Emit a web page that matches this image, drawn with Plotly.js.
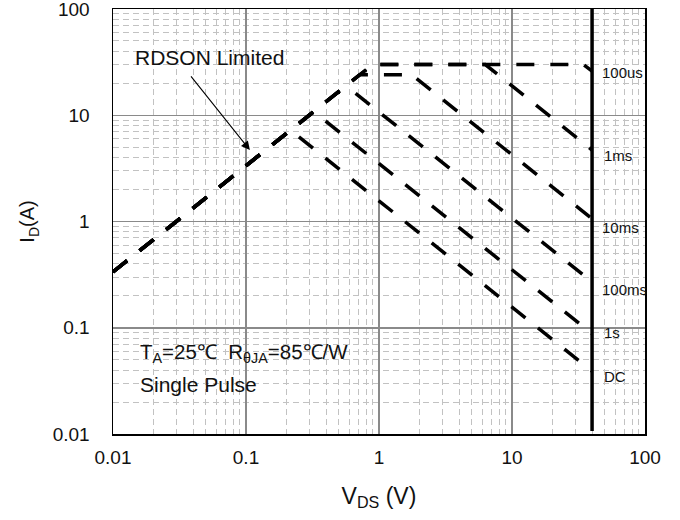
<!DOCTYPE html>
<html>
<head>
<meta charset="utf-8">
<script src="https://cdn.plot.ly/plotly-3.0.1.min.js"></script>
<style>
  html, body { margin: 0; padding: 0; background: #fff; }
  #chart { width: 680px; height: 520px; }
</style>
</head>
<body>
<div id="chart"></div>
<script>
// ---- Data (V_DS in volts, I_D in amps) ----
const dcV     = [0.01, 0.216, 40];
const dcI     = [0.335, 7.25, 0.039];
const s1V     = [0.01, 0.324, 40];
const s1I     = [0.335, 10.8, 0.088];
const ms100V  = [0.01, 0.493, 0.65, 40];
const ms100I  = [0.335, 16.5, 16.5, 0.27];
const ms10V   = [0.01, 0.716, 1.77, 40];
const ms10I   = [0.335, 24, 24, 1.06];
const ms1V    = [0.01, 0.896, 6.3, 40];
const ms1I    = [0.335, 30, 30, 4.7];
const us100V  = [0.01, 0.896, 34.5, 40];
const us100I  = [0.335, 30, 30, 26];

const vdsMaxV = [40, 40];
const vdsMaxI = [0.0107, 100];

const curveLabels = ['100us', '1ms', '10ms', '100ms', '1s', 'DC'];
const labelV      = [45.6, 47.9, 45.6, 45.6, 47.9, 47.9];
const labelI      = [25, 4.15, 0.87, 0.23, 0.09, 0.0346];

const xTickVals = [0.01, 0.1, 1, 10, 100];
const xTickText = ['0.01', '0.1', '1', '10', '100'];
const yTickVals = [0.01, 0.1, 1, 10, 100];
const yTickText = ['0.01', '0.1', '1', '10', '100'];

// ---- Traces ----
const dashLine = { color: '#000', width: 3.5, dash: '18px,16px' };
function curve(x, y) {
  return { x: x, y: y, type: 'scatter', mode: 'lines', line: dashLine, hoverinfo: 'skip' };
}
const traces = [
  curve(dcV, dcI),
  curve(s1V, s1I),
  curve(ms100V, ms100I),
  curve(ms10V, ms10I),
  curve(ms1V, ms1I),
  curve(us100V, us100I),
  { x: vdsMaxV, y: vdsMaxI, type: 'scatter', mode: 'lines',
    line: { color: '#000', width: 3.5 }, hoverinfo: 'skip' }
];

const FONT = 'Arial, "Liberation Sans", sans-serif';
const log = Math.log10;

const annotations = [];
curveLabels.forEach(function (t, i) {
  annotations.push({
    x: log(labelV[i]), y: log(labelI[i]), xref: 'x', yref: 'y',
    text: t, showarrow: false, xanchor: 'left', yanchor: 'middle',
    font: { family: FONT, size: 15, color: '#111' }
  });
});
annotations.push({
  x: log(0.053), y: log(35), xref: 'x', yref: 'y',
  text: 'RDSON Limited', showarrow: false, xanchor: 'center', yanchor: 'middle',
  font: { family: FONT, size: 21, color: '#111' }
});
annotations.push({
  x: log(0.107), y: log(4.7), xref: 'x', yref: 'y',
  ax: log(0.0378), ay: log(24), axref: 'x', ayref: 'y',
  text: '', showarrow: true, arrowhead: 2, arrowsize: 1.6, arrowwidth: 1.1,
  arrowcolor: '#000', standoff: 0, startstandoff: 0
});
annotations.push({
  x: log(0.0153), y: log(0.058), xref: 'x', yref: 'y',
  text: 'T<sub>A</sub>=25℃  R<sub>θJA</sub>=85℃/W', showarrow: false,
  xanchor: 'left', yanchor: 'middle',
  font: { family: FONT, size: 20.5, color: '#111' }
});
annotations.push({
  x: log(0.0153), y: log(0.029), xref: 'x', yref: 'y',
  text: 'Single Pulse', showarrow: false,
  xanchor: 'left', yanchor: 'middle',
  font: { family: FONT, size: 21, color: '#111' }
});

function axisBase(tv, tt) {
  return {
    type: 'log', tickmode: 'array', tickvals: tv, ticktext: tt,
    ticks: '', showline: true, mirror: true, linecolor: '#000', linewidth: 1.5,
    showgrid: true, gridcolor: '#8a8a8a', gridwidth: 1.5, zeroline: false,
    minor: { dtick: 'D1', showgrid: true, gridcolor: '#c2c2c2', gridwidth: 1, griddash: '6px,4px', ticks: '' },
    tickfont: { family: FONT, size: 19, color: '#111' },
    ticklabeloverflow: 'allow',
    automargin: false, fixedrange: true
  };
}

const xaxis = Object.assign(axisBase(xTickVals, xTickText), {
  range: [-2, 2],
  ticklabelstandoff: 6,
  title: { text: 'V<sub>DS</sub> (V)', font: { family: FONT, size: 23, color: '#111' }, standoff: 20 }
});
const yaxis = Object.assign(axisBase(yTickVals, yTickText), {
  range: [-2, 2],
  ticklabelstandoff: 18,
  title: { text: 'I<sub>D</sub>(A)', font: { family: FONT, size: 20, color: '#111' }, standoff: 12 }
});

const layout = {
  width: 680, height: 520,
  margin: { l: 113, r: 35, t: 9, b: 86 },
  paper_bgcolor: '#fff', plot_bgcolor: '#fff',
  showlegend: false,
  font: { family: FONT, color: '#111' },
  xaxis: xaxis, yaxis: yaxis,
  annotations: annotations
};

Plotly.newPlot('chart', traces, layout, { staticPlot: true, displayModeBar: false });
</script>
</body>
</html>
